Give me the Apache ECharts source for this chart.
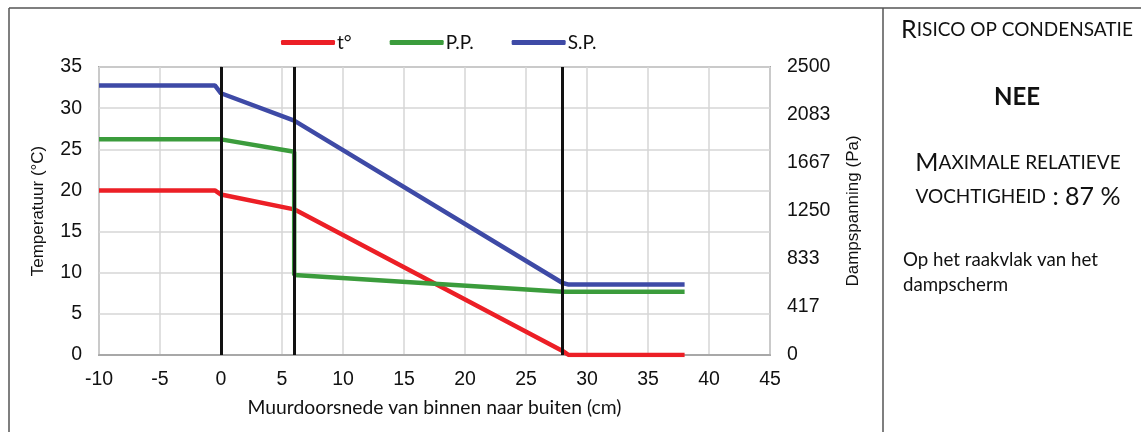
<!DOCTYPE html>
<html>
<head>
<meta charset="utf-8">
<script src="https://cdn.jsdelivr.net/npm/echarts@6/dist/echarts.min.js"></script>
<style>
html,body{margin:0;padding:0;background:#fff;}
#chart{width:1141px;height:432px;}
</style>
</head>
<body>
<div id="chart"></div>
<script>
// ---- data ----
const seriesNames = ['t°', 'P.P.', 'S.P.'];
const tempX = [-10, -0.5, 0, 6, 28, 28.5, 38];
const tempY = [20, 20, 19.5, 17.7, 0.5, 0, 0];
const ppX = [-10, 0, 6, 6, 28, 38];
const ppY = [1872, 1872, 1765, 694, 550, 548];
const spX = [-10, -0.5, 0, 6, 28, 28.5, 38];
const spY = [2340, 2340, 2272, 2034, 625, 611, 611];
const layerBoundaries = [0, 6, 28];
const xAxisTitle = 'Muurdoorsnede van binnen naar buiten (cm)';
const leftAxisTitle = 'Temperatuur (°C)';
const rightAxisTitle = 'Dampspanning (Pa)';

const pairs = (xs, ys) => xs.map((x, i) => [x, ys[i]]);
const colors = ['#ec1f26', '#3b9c3c', '#3e4aa6'];
const tickFont = 'Liberation Sans, Arial, sans-serif';
const bodyFont = 'Lato, Open Sans, sans-serif';

const chart = echarts.init(document.getElementById('chart'), null, {renderer: 'canvas'});
const option = {
  animation: false,
  backgroundColor: '#fff',
  legend: {
    top: 28,
    left: 276,
    data: seriesNames,
    icon: 'roundRect',
    itemWidth: 54,
    itemHeight: 5,
    itemGap: 38,
    textStyle: {fontFamily: bodyFont, fontSize: 19, color: '#111', padding: [0, 0, 0, -3]}
  },
  grid: {
    left: 99, right: 371, top: 67, bottom: 77,
    show: true, borderColor: '#a8a8a8', borderWidth: 2
  },
  xAxis: {
    type: 'value', min: -10, max: 45, interval: 5,
    name: xAxisTitle, nameLocation: 'middle', nameGap: 43,
    nameTextStyle: {fontFamily: bodyFont, fontSize: 19.3, color: '#111'},
    axisLine: {show: true, lineStyle: {color: '#a8a8a8', width: 2}},
    axisTick: {show: false},
    axisLabel: {fontFamily: tickFont, fontSize: 19.5, color: '#111', margin: 15},
    splitLine: {show: true, lineStyle: {color: '#d6d6d6', width: 1.5}}
  },
  yAxis: [{
    type: 'value', min: 0, max: 35, interval: 5, position: 'left',
    name: leftAxisTitle, nameLocation: 'middle', nameGap: 52, nameRotate: 90,
    nameTextStyle: {fontFamily: tickFont, fontSize: 17, color: '#111'},
    axisLine: {show: true, lineStyle: {color: '#a8a8a8', width: 2}},
    axisTick: {show: false},
    axisLabel: {fontFamily: tickFont, fontSize: 19.5, color: '#111', margin: 17},
    splitLine: {show: true, lineStyle: {color: '#d6d6d6', width: 1.5}}
  }, {
    type: 'value', min: 0, max: 2500, interval: 2500 / 6, position: 'right',
    name: rightAxisTitle, nameLocation: 'middle', nameGap: 75, nameRotate: 90,
    nameTextStyle: {fontFamily: tickFont, fontSize: 17, color: '#111'},
    axisLine: {show: false},
    axisTick: {show: false},
    axisLabel: {fontFamily: tickFont, fontSize: 19.5, color: '#111', margin: 17,
      formatter: v => String(Math.round(v))},
    splitLine: {show: false}
  }],
  series: [{
    name: 'boundaries', type: 'line', data: [], z: 1, silent: true,
    markLine: {
      silent: true, symbol: 'none', animation: false,
      label: {show: false},
      lineStyle: {color: '#111', width: 3, type: 'solid'},
      data: layerBoundaries.map(x => ({xAxis: x}))
    }
  }, {
    name: seriesNames[0], type: 'line', yAxisIndex: 0, z: 3,
    data: pairs(tempX, tempY), showSymbol: false, symbol: 'none',
    lineStyle: {color: colors[0], width: 4.5}, itemStyle: {color: colors[0]}
  }, {
    name: seriesNames[1], type: 'line', yAxisIndex: 1, z: 3,
    data: pairs(ppX, ppY), showSymbol: false, symbol: 'none',
    lineStyle: {color: colors[1], width: 4.5}, itemStyle: {color: colors[1]}
  }, {
    name: seriesNames[2], type: 'line', yAxisIndex: 1, z: 3,
    data: pairs(spX, spY), showSymbol: false, symbol: 'none',
    lineStyle: {color: colors[2], width: 4.5}, itemStyle: {color: colors[2]}
  }],
  graphic: [
    {type: 'line', shape: {x1: 9, y1: 8, x2: 1141, y2: 8}, style: {stroke: '#555', lineWidth: 1.5}},
    {type: 'line', shape: {x1: 9, y1: 8, x2: 9, y2: 432}, style: {stroke: '#555', lineWidth: 1.5}},
    {type: 'line', shape: {x1: 883, y1: 8, x2: 883, y2: 432}, style: {stroke: '#555', lineWidth: 1.5}},
    {type: 'text', x: 1017, y: 30, style: {
      text: '{b|R}{s|ISICO OP CONDENSATIE}', align: 'center', verticalAlign: 'middle',
      rich: {b: {fontFamily: bodyFont, fontSize: 25, fill: '#111'}, s: {fontFamily: bodyFont, fontSize: 19, fill: '#111'}}
    }},
    {type: 'text', x: 1017, y: 97, style: {
      text: 'NEE', align: 'center', verticalAlign: 'middle',
      fontFamily: bodyFont, fontSize: 24, fontWeight: 'bold', fill: '#111'
    }},
    {type: 'text', x: 1018, y: 163, style: {
      text: '{b|M}{s|AXIMALE RELATIEVE}', align: 'center', verticalAlign: 'middle',
      rich: {b: {fontFamily: bodyFont, fontSize: 25, fill: '#111'}, s: {fontFamily: bodyFont, fontSize: 19, fill: '#111'}}
    }},
    {type: 'text', x: 1018, y: 197, style: {
      text: '{s|VOCHTIGHEID}{b| : 87 %}', align: 'center', verticalAlign: 'middle',
      rich: {b: {fontFamily: bodyFont, fontSize: 25, fill: '#111'}, s: {fontFamily: bodyFont, fontSize: 19, fill: '#111'}}
    }},
    {type: 'text', x: 903, y: 247, style: {
      text: 'Op het raakvlak van het\ndampscherm', align: 'left', verticalAlign: 'top',
      fontFamily: bodyFont, fontSize: 18.7, lineHeight: 25, fill: '#111'
    }}
  ]
};
chart.setOption(option);
</script>
</body>
</html>
